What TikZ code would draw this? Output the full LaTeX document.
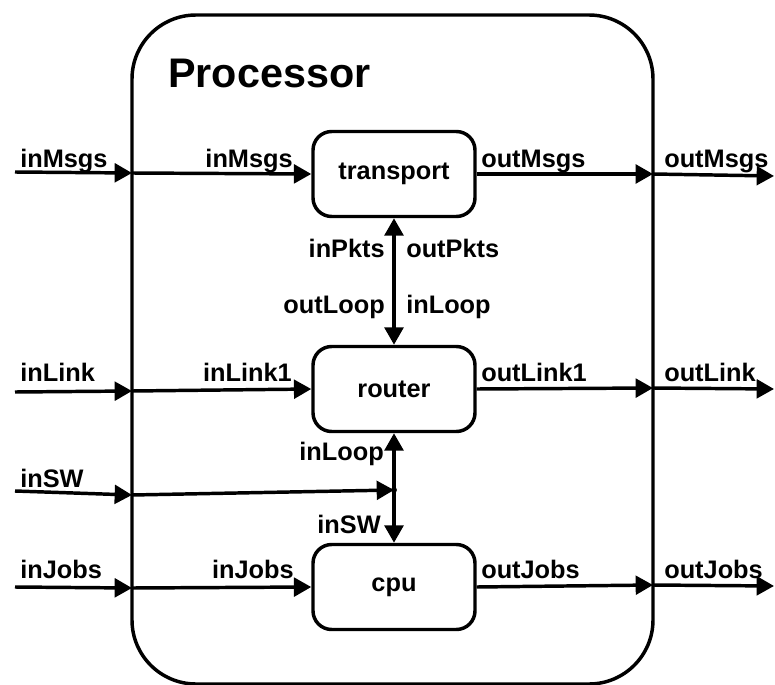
\documentclass[tikz,border=0pt]{standalone}
\usepackage{fontspec}
\setmainfont{Liberation Sans}
\usetikzlibrary{arrows.meta}
\usetikzlibrary{positioning}
\tikzstyle{frame} = [
    draw=black,
    line width=2.6pt,
    rounded corners=48pt,
    minimum width=390.75pt,
    minimum height=501.75pt
]
\tikzstyle{block} = [
    draw=black,
    line width=2.6pt,
    rounded corners=14pt,
    font=\fontsize{19}{21}\selectfont\bfseries,
    align=center,
    minimum width=121.5pt,
    minimum height=63.75pt
]
\tikzstyle{port} = [
    font=\fontsize{19}{21}\selectfont\bfseries,
    inner sep=0pt
]
\tikzstyle{wire} = [
    line width=2.6pt,
    -{Triangle[length=13pt, width=14pt]}
]
\tikzstyle{twoway} = [
    line width=2.6pt,
    {Triangle[length=13pt, width=14pt]}-{Triangle[length=13pt, width=14pt]}
]

\begin{document}
\begin{tikzpicture}[x=0.75pt, y=-0.75pt]
\useasboundingbox (0,0) rectangle (775,685);
\clip (0,0) rectangle (775,685);
% outer processor, bottom edge sits on the page edge
\node [frame] (processor) at (392.5, 349.5) {};
\node [anchor=base west, inner sep=0pt, font=\fontsize{31}{35}\selectfont\bfseries] (processor_title) at (168, 88) {Processor};

% inner blocks
\node [block] (transport) at (394, 174) {transport};
\node [block] (router) at (394, 389) {router};
\node [block] (cpu) at (394, 587) {cpu};

% points on the processor border
\coordinate (inmsgs_src) at (15, 172);
\coordinate (inmsgs_in) at (132, 173);
\coordinate (outmsgs_out) at (653, 174);
\coordinate (outmsgs_dst) at (774, 176);
\coordinate (inlink_src) at (15, 392);
\coordinate (inlink_in) at (132, 391);
\coordinate (outlink_out) at (653, 388);
\coordinate (outlink_dst) at (774, 389);
\coordinate (insw_src) at (15, 491);
\coordinate (insw_in) at (132, 495);
\coordinate (insw_join) at (394, 490);
\coordinate (injobs_src) at (15, 587);
\coordinate (injobs_in) at (132, 588);
\coordinate (outjobs_out) at (653, 585);
\coordinate (outjobs_dst) at (774, 586);

% connectors
\draw [wire] (inmsgs_src) -- (inmsgs_in);
\draw [wire] (inmsgs_in) -- (transport.west);
\draw [wire] (transport.east) -- (outmsgs_out);
\draw [wire] (outmsgs_out) -- (outmsgs_dst);
\draw [twoway] (transport.south) -- (router.north);
\draw [wire] (inlink_src) -- (inlink_in);
\draw [wire] (inlink_in) -- (router.west);
\draw [wire] (router.east) -- (outlink_out);
\draw [wire] (outlink_out) -- (outlink_dst);
\draw [wire] (insw_src) -- (insw_in);
\draw [wire] (insw_in) -- (insw_join);
\draw [wire] (insw_join) -- (router.south);
\draw [wire] (insw_join) -- (cpu.north);
\fill (insw_join) circle (2.2pt);
\draw [wire] (injobs_src) -- (injobs_in);
\draw [wire] (injobs_in) -- (cpu.west);
\draw [wire] (cpu.east) -- (outjobs_out);
\draw [wire] (outjobs_out) -- (outjobs_dst);

% port labels
\node [port, anchor=base west] (l_inmsgs_ext) at (20, 167) {inMsgs};
\node [port, anchor=base east] (l_inmsgs_int) at (293, 167) {inMsgs};
\node [port, anchor=base west] (l_outmsgs_int) at (481, 167) {outMsgs};
\node [port, anchor=base west] (l_outmsgs_ext) at (664, 167) {outMsgs};
\node [port, anchor=base east] (l_inpkts) at (385, 257) {inPkts};
\node [port, anchor=base west] (l_outpkts) at (406, 257) {outPkts};
\node [port, anchor=base east] (l_outloop) at (385, 313) {outLoop};
\node [port, anchor=base west] (l_inloop_r) at (406, 313) {inLoop};
\node [port, anchor=base west] (l_inlink_ext) at (20, 381) {inLink};
\node [port, anchor=base east] (l_inlink_int) at (292, 381) {inLink1};
\node [port, anchor=base west] (l_outlink_int) at (481, 381) {outLink1};
\node [port, anchor=base west] (l_outlink_ext) at (664, 381) {outLink};
\node [port, anchor=base east] (l_inloop_c) at (384, 460) {inLoop};
\node [port, anchor=base west] (l_insw_ext) at (20, 487) {inSW};
\node [port, anchor=base east] (l_insw_c) at (381, 533) {inSW};
\node [port, anchor=base west] (l_injobs_ext) at (20, 578) {inJobs};
\node [port, anchor=base east] (l_injobs_int) at (294, 578) {inJobs};
\node [port, anchor=base west] (l_outjobs_int) at (481, 578) {outJobs};
\node [port, anchor=base west] (l_outjobs_ext) at (664, 578) {outJobs};
\end{tikzpicture}
\end{document}
